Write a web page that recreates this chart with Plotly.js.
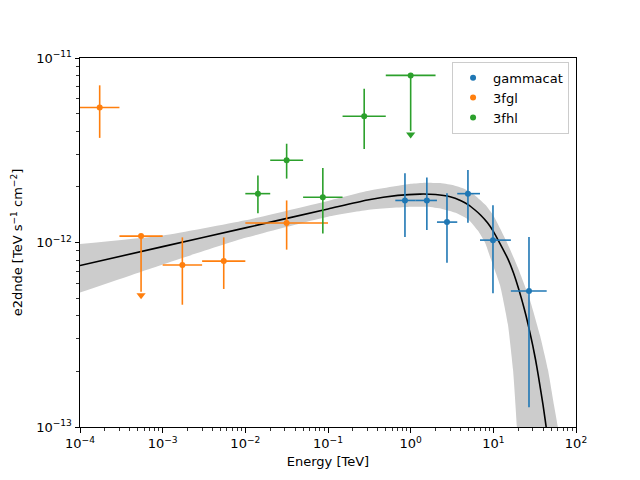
<!DOCTYPE html>
<html>
<head>
<meta charset="utf-8">
<script src="https://cdn.plot.ly/plotly-3.0.1.min.js"></script>
<style>html,body{margin:0;padding:0;background:#fff;}#chart{width:640px;height:480px;}</style>
</head>
<body>
<div id="chart"></div>
<script>
// ---- gammacat flux points ----
var gcE    = [0.853, 1.57, 2.75, 4.93, 9.9, 27];
var gcElo  = [0.652, 1.15, 2.08, 3.66, 6.9, 16.3];
var gcEhi  = [1.15, 2.08, 3.66, 6.9, 16.3, 44.2];
var gcV    = [1.69e-12, 1.69e-12, 1.29e-12, 1.84e-12, 1.03e-12, 5.46e-13];
var gcVlo  = [1.07e-12, 1.17e-12, 7.76e-13, 1.28e-12, 5.31e-13, 1.28e-13];
var gcVhi  = [2.37e-12, 2.25e-12, 1.85e-12, 2.47e-12, 1.59e-12, 1.07e-12];
var gcUL   = [false, false, false, false, false, false];

// ---- 3FGL flux points ----
var fglE   = [1.73e-4, 5.48e-4, 1.73e-3, 5.48e-3, 3.16e-2];
var fglElo = [1e-4, 3e-4, 1e-3, 3e-3, 1e-2];
var fglEhi = [3e-4, 1e-3, 3e-3, 1e-2, 1e-1];
var fglV   = [5.39e-12, 1.083e-12, 7.55e-13, 7.93e-13, 1.275e-12];
var fglVlo = [3.69e-12, null, 4.6e-13, 5.6e-13, 9.15e-13];
var fglVhi = [7.11e-12, null, 1.066e-12, 1.066e-12, 1.69e-12];
var fglUL  = [false, true, false, false, false];

// ---- 3FHL flux points ----
var fhlE   = [1.42e-2, 3.16e-2, 8.66e-2, 0.274, 1.0];
var fhlElo = [1e-2, 2e-2, 5e-2, 0.15, 0.5];
var fhlEhi = [2e-2, 5e-2, 0.15, 0.5, 2.0];
var fhlV   = [1.84e-12, 2.79e-12, 1.76e-12, 4.83e-12, 8.05e-12];
var fhlVlo = [1.44e-12, 2.22e-12, 1.12e-12, 3.21e-12, null];
var fhlVhi = [2.31e-12, 3.43e-12, 2.53e-12, 6.82e-12, null];
var fhlUL  = [false, false, false, false, true];

// ---- best-fit model curve ----
var modelE = [1e-4, 1e-3, 1e-2, 0.1, 0.3, 0.7, 1.3, 2, 3, 4, 5, 6, 7, 8.5, 10, 12, 15, 17.5, 20, 22.5, 25, 27.5, 30, 32.5, 35, 40, 45, 50];
var modelV = [7.5e-13, 9.5e-13, 1.2e-12, 1.52e-12, 1.7e-12, 1.8e-12, 1.83e-12, 1.82e-12, 1.77e-12, 1.69e-12, 1.6e-12, 1.5e-12,
              1.41e-12, 1.28e-12, 1.15e-12, 9.9e-13, 8.15e-13, 6.85e-13, 5.7e-13, 4.75e-13, 3.97e-13, 3.3e-13, 2.76e-13, 2.3e-13,
              1.9e-13, 1.31e-13, 9.0e-14, 6.2e-14];

// ---- model uncertainty band ----
var bandUpE = [1e-4, 1e-3, 1e-2, 0.1, 0.3, 1, 1.5, 2.2, 3.2, 4.5, 6, 8, 10, 14.2, 19.9, 27.7, 36.6, 45.8, 54.1, 60.5, 68];
var bandUpV = [9.8e-13, 1.09e-12, 1.32e-12, 1.68e-12, 1.9e-12, 2.08e-12, 2.11e-12, 2.1e-12, 2.05e-12, 1.95e-12, 1.8e-12,
               1.6e-12, 1.4e-12, 1.03e-12, 7.27e-13, 4.88e-13, 3.15e-13, 2.04e-13, 1.32e-13, 9.9e-14, 7e-14];
var bandLoE = [1e-4, 1e-3, 1e-2, 0.1, 0.3, 1, 1.6, 2.4, 3.5, 5, 6.5, 8, 9.1, 12, 15, 17.3, 19.3, 20.5];
var bandLoV = [5.35e-13, 7.6e-13, 1.06e-12, 1.38e-12, 1.5e-12, 1.56e-12, 1.56e-12, 1.52e-12, 1.45e-12, 1.33e-12, 1.16e-12,
               9.9e-13, 8.4e-13, 5.9e-13, 3.6e-13, 2.05e-13, 1.0e-13, 6e-14];

// ---- tick labels ----
var xTickVals = [1e-4, 1e-3, 1e-2, 1e-1, 1e0, 1e1, 1e2];
var xTickText = ['10<sup>−4</sup>', '10<sup>−3</sup>', '10<sup>−2</sup>', '10<sup>−1</sup>', '10<sup>0</sup>', '10<sup>1</sup>', '10<sup>2</sup>'];
var yTickVals = [1e-13, 1e-12, 1e-11];
var yTickText = ['10<sup>−13</sup>', '10<sup>−12</sup>', '10<sup>−11</sup>'];

var blue = '#1f77b4', orange = '#ff7f0e', green = '#2ca02c';
var FONT = 'DejaVu Sans, sans-serif';

var traces = [];

traces.push({
  x: bandUpE.concat(bandLoE.slice().reverse()),
  y: bandUpV.concat(bandLoV.slice().reverse()),
  mode: 'lines', fill: 'toself', fillcolor: '#cccccc',
  line: {width: 0, color: 'rgba(0,0,0,0)', shape: 'spline', smoothing: 0.5},
  showlegend: false, hoverinfo: 'skip'
});
traces.push({
  x: modelE, y: modelV, mode: 'lines',
  line: {color: 'black', width: 1.6, shape: 'spline', smoothing: 0.6},
  showlegend: false, hoverinfo: 'skip'
});

function addSet(name, color, E, Elo, Ehi, V, Vlo, Vhi, UL) {
  var px = [], py = [], exm = [], exp = [], eym = [], eyp = [];
  var ux = [], uy = [], uxm = [], uxp = [], uym = [], ax = [], ay = [];
  for (var i = 0; i < E.length; i++) {
    if (UL[i]) {
      ux.push(E[i]); uy.push(V[i]);
      uxm.push(E[i] - Elo[i]); uxp.push(Ehi[i] - E[i]);
      uym.push(V[i] * 0.5);
      ax.push(E[i]); ay.push(V[i] * 0.5 * 0.955);
    } else {
      px.push(E[i]); py.push(V[i]);
      exm.push(E[i] - Elo[i]); exp.push(Ehi[i] - E[i]);
      eym.push(V[i] - Vlo[i]); eyp.push(Vhi[i] - V[i]);
    }
  }
  if (ux.length) {
    traces.push({
      x: ux, y: uy, mode: 'markers', showlegend: false, hoverinfo: 'skip',
      marker: {color: color, size: 6},
      error_x: {type: 'data', symmetric: false, array: uxp, arrayminus: uxm, color: color, thickness: 1.6, width: 0},
      error_y: {type: 'data', symmetric: false, array: ux.map(function(){return 0;}), arrayminus: uym, color: color, thickness: 1.6, width: 0}
    });
    traces.push({
      x: ax, y: ay, mode: 'markers', showlegend: false, hoverinfo: 'skip',
      marker: {color: color, size: 8, symbol: 'triangle-down'}
    });
  }
  traces.push({
    x: px, y: py, mode: 'markers', name: name,
    marker: {color: color, size: 6},
    error_x: {type: 'data', symmetric: false, array: exp, arrayminus: exm, color: color, thickness: 1.6, width: 0},
    error_y: {type: 'data', symmetric: false, array: eyp, arrayminus: eym, color: color, thickness: 1.6, width: 0}
  });
}

addSet('gammacat', blue, gcE, gcElo, gcEhi, gcV, gcVlo, gcVhi, gcUL);
addSet('3fgl', orange, fglE, fglElo, fglEhi, fglV, fglVlo, fglVhi, fglUL);
addSet('3fhl', green, fhlE, fhlElo, fhlEhi, fhlV, fhlVlo, fhlVhi, fhlUL);

function minorVals(a, b) {
  var v = [];
  for (var d = a; d < b; d++) for (var k = 2; k <= 9; k++) v.push(k * Math.pow(10, d));
  return v;
}

var axisCommon = {
  type: 'log', showgrid: false, zeroline: false,
  showline: true, linecolor: 'black', linewidth: 1, mirror: true,
  ticks: 'outside', ticklen: 4.5, tickwidth: 1, tickcolor: 'black',
  tickmode: 'array',
  tickfont: {family: FONT, size: 13, color: 'black'}
};

var layout = {
  width: 640, height: 480,
  paper_bgcolor: 'white', plot_bgcolor: 'white',
  margin: {l: 80, r: 64, t: 57.6, b: 52.8, pad: 0},
  font: {family: FONT, size: 13, color: 'black'},
  xaxis: Object.assign({}, axisCommon, {
    range: [-4, 2], tickvals: xTickVals, ticktext: xTickText,
    minor: {tickmode: 'array', tickvals: minorVals(-4, 2), ticks: 'outside', ticklen: 2.6, tickwidth: 0.8, tickcolor: 'black'},
    title: {text: 'Energy [TeV]', font: {family: FONT, size: 13}, standoff: 6}
  }),
  yaxis: Object.assign({}, axisCommon, {
    range: [-13, -11], tickvals: yTickVals, ticktext: yTickText,
    minor: {tickmode: 'array', tickvals: minorVals(-13, -11), ticks: 'outside', ticklen: 2.6, tickwidth: 0.8, tickcolor: 'black'},
    title: {text: 'e2dnde [TeV s<sup>−1</sup> cm<sup>−2</sup>]', font: {family: FONT, size: 13}, standoff: 10}
  }),
  legend: {
    x: 0.986, y: 0.99, xanchor: 'right', yanchor: 'top',
    bgcolor: 'rgba(255,255,255,0.8)', bordercolor: '#cccccc', borderwidth: 1,
    font: {family: FONT, size: 13}, itemwidth: 30
  },
  showlegend: true
};

Plotly.newPlot('chart', traces, layout, {staticPlot: true, displayModeBar: false});
</script>
</body>
</html>
